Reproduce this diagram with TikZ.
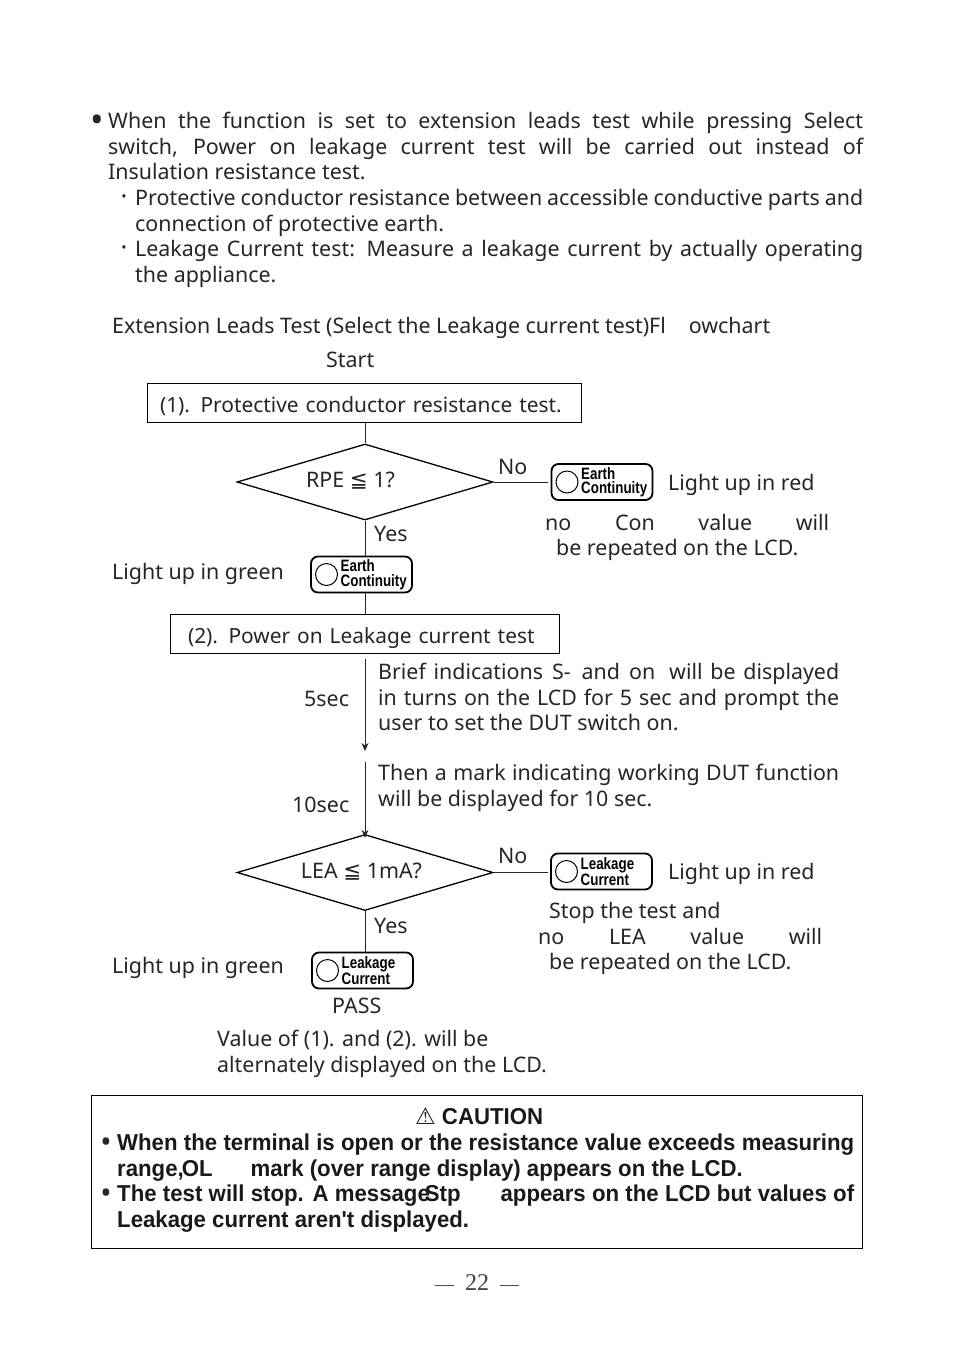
\documentclass[tikz,border=0pt]{standalone}
\usepackage{fontspec}
\usepackage{tikz}
\usetikzlibrary{arrows.meta, shapes.geometric, positioning, calc}
\setmainfont{Noto Sans}
\newfontfamily\symfont{DejaVu Sans}
\newfontfamily\headfont[FakeStretch=0.965]{Liberation Sans}
\newfontfamily\lampfont[FakeStretch=0.81]{Liberation Sans}
\newfontfamily\pagefont{Liberation Serif}
\newcommand{\spreadline}[2]{\makebox[#1pt][s]{#2}}
\tikzset{
    txt/.style={inner sep=0pt, anchor=north west, align=left, text=black!85, font=\fontsize{21.4}{25.6}\selectfont},
    headtxt/.style={inner sep=0pt, anchor=north west, align=left, text=black!90, font=\fontsize{23}{25.6}\selectfont\headfont\bfseries},
    dotmark/.style={inner sep=0pt, anchor=center, text=black!85},
    stagebox/.style={draw, line width=1pt, inner ysep=0pt, minimum height=39, text height=24, text depth=4, align=left, font=\fontsize{20.9}{25.6}\selectfont, text=black!85},
    decision/.style={draw, diamond, line width=1.3pt, minimum width=256, minimum height=76, aspect=3.37, inner sep=0pt},
    lampbox/.style={draw, line width=1.8pt, rounded corners=7pt, minimum width=101, minimum height=36, inner sep=0pt},
    lampring/.style={draw, circle, line width=1pt, minimum size=22, inner sep=0pt},
    lamptxt/.style={inner sep=0pt, anchor=west, align=left, font=\fontsize{16.5}{14.5}\selectfont\lampfont\bfseries},
    flow/.style={line width=1pt, black!85},
    flowtip/.style={flow, -{Stealth[length=8pt,width=7pt]}},
}
\newcommand{\lampnode}[4]{
    \node[lampbox] (#1) at (#2) {};
    \node[lampring] (#1ring) at ([xshift=-35]#1.center) {};
    \node[lamptxt] (#1txt) at ([xshift=-21]#1.center) {#3\\#4};
}
\begin{document}
\begin{tikzpicture}[x=1pt,y=-1pt]
    \useasboundingbox (0,0) rectangle (954,1345);
    % text above the chart
    \node[dotmark, font=\fontsize{36}{36}\selectfont] (bulleta) at (97,124) {\textbullet};
    \node[txt] (para) at (108,112) {\spreadline{755}{When the function is set to extension leads test while pressing Select}\\
        \spreadline{755}{switch, Power on leakage current test will be carried out instead of}\\
        Insulation resistance test.};
    \node[dotmark, font=\fontsize{14}{14}\selectfont] (dotb) at (124,198) {\textbullet};
    \node[txt] (parb) at (135,189) {\spreadline{728}{Protective conductor resistance between accessible conductive parts and}\\
        connection of protective earth.};
    \node[dotmark, font=\fontsize{14}{14}\selectfont] (dotc) at (124,249) {\textbullet};
    \node[txt] (parc) at (135,240) {\spreadline{728}{Leakage Current test: Measure a leakage current by actually operating}\\
        the appliance.};
    \node[txt] (title) at (112,317) {Extension Leads Test (Select the Leakage current test)Fl\hspace{23pt}owchart};
    \node[txt] (start) at (326,352) {Start};
    % first stage
    \node[stagebox, inner xsep=13pt, text width=408] (stage1) at (364,402.5) {(1). Protective conductor resistance test.};
    \node[decision] (rpe) at (365,482) {};
    \node[txt, anchor=center] (rpetxt) at (350.5,481) {RPE {\symfont ≦} 1?};
    \node[txt] (no1) at (498,459) {No};
    \lampnode{earthno}{602,482}{Earth}{Continuity}
    \node[txt] (red1) at (668,474) {Light up in red};
    \node[txt] (rep1) at (545,514) {\spreadline{284}{no\hfill Con\hfill value\hfill will}};
    \node[txt] (rep1b) at (556,539) {be repeated on the LCD.};
    \node[txt] (yes1) at (374,526) {Yes};
    \node[txt] (green1) at (112,563) {Light up in green};
    \lampnode{earthyes}{361.5,574.5}{Earth}{Continuity}
    % second stage
    \node[stagebox, inner xsep=18pt, text width=353] (stage2) at (364.5,633.5) {(2). Power on Leakage current test};
    \node[txt] (sec5) at (304,691) {5sec};
    \node[txt] (brief) at (378,663) {\spreadline{461}{Brief indications\hspace{9pt}S-\hspace{11pt}and\hspace{9pt}on\hspace{14pt}will be displayed}\\
        \spreadline{461}{in turns on the LCD for 5 sec and prompt the}\\
        user to set the DUT switch on.};
    \coordinate (gapa) at (365,659);
    \coordinate (gapb) at (365,751);
    \coordinate (gapc) at (365,762);
    \node[txt] (sec10) at (292,797) {10sec};
    \node[txt] (then) at (378,764) {\spreadline{461}{Then a mark indicating working DUT function}\\
        will be displayed for 10 sec.};
    \node[decision] (lea) at (365,872.5) {};
    \node[txt, anchor=center] (leatxt) at (361.5,872) {LEA {\symfont ≦} 1mA?};
    \node[txt] (no2) at (498,848) {No};
    \lampnode{leakno}{601.5,871.5}{Leakage}{Current}
    \node[txt] (red2) at (668,863) {Light up in red};
    \node[txt] (stoptest) at (549,902) {Stop the test and};
    \node[txt] (rep2) at (538,928) {\spreadline{284}{no\hfill LEA\hfill value\hfill will}};
    \node[txt] (rep2b) at (549,953) {be repeated on the LCD.};
    \node[txt] (yes2) at (374,918) {Yes};
    \node[txt] (green2) at (112,957) {Light up in green};
    \lampnode{leakyes}{362.5,970.5}{Leakage}{Current}
    \node[txt] (pass) at (332,998) {PASS};
    \node[txt] (altern) at (217,1030) {Value of (1). and (2). will be\\
        alternately displayed on the LCD.};
    % connectors
    \draw[flow] (rpe.north |- stage1.south) -- (rpe.north);
    \draw[flow] (rpe.east) -- ++(54,0) coordinate (noend1);
    \draw[flow] (rpe.south) -- (rpe.south |- earthyes.north);
    \draw[flow] (rpe.south |- earthyes.south) -- (rpe.south |- stage2.north);
    \draw[flowtip] (gapa) -- (gapb);
    \draw[flowtip] (gapc) -- ([yshift=-4]lea.north);
    \draw[flow] (lea.east) -- ++(54,0) coordinate (noend2);
    \draw[flow] (lea.south) -- (lea.south |- leakyes.north);
    % caution box
    \node[draw, line width=1pt, minimum width=771, minimum height=153, inner sep=0pt] (cautionbox) at (477,1171.5) {};
    \node[headtxt] (caution) at (415,1108) {{\symfont\mdseries ⚠} CAUTION};
    \node[dotmark, font=\fontsize{30}{30}\selectfont] (bulletd) at (106,1145) {\textbullet};
    \node[headtxt] (cautiona) at (117,1134) {\spreadline{737}{When the terminal is open or the resistance value exceeds measuring}\\
        range,\hspace{-2pt}OL\hspace{38pt}mark (over range display) appears on the LCD.};
    \node[dotmark, font=\fontsize{30}{30}\selectfont] (bullete) at (106,1196) {\textbullet};
    \node[headtxt] (cautionb) at (117,1185) {\spreadline{737}{The test will stop. A message\hspace{-5pt}Stp\hspace{40pt}appears on the LCD but values of}\\
        Leakage current aren't displayed.};
    % page number
    \node[inner sep=0pt, font=\fontsize{24}{26}\selectfont\pagefont, text=black!75] (pagenum) at (477,1283) {{\fontsize{19}{26}\selectfont —}\hspace{11pt}22\hspace{11pt}{\fontsize{19}{26}\selectfont —}};
\end{tikzpicture}
\end{document}
